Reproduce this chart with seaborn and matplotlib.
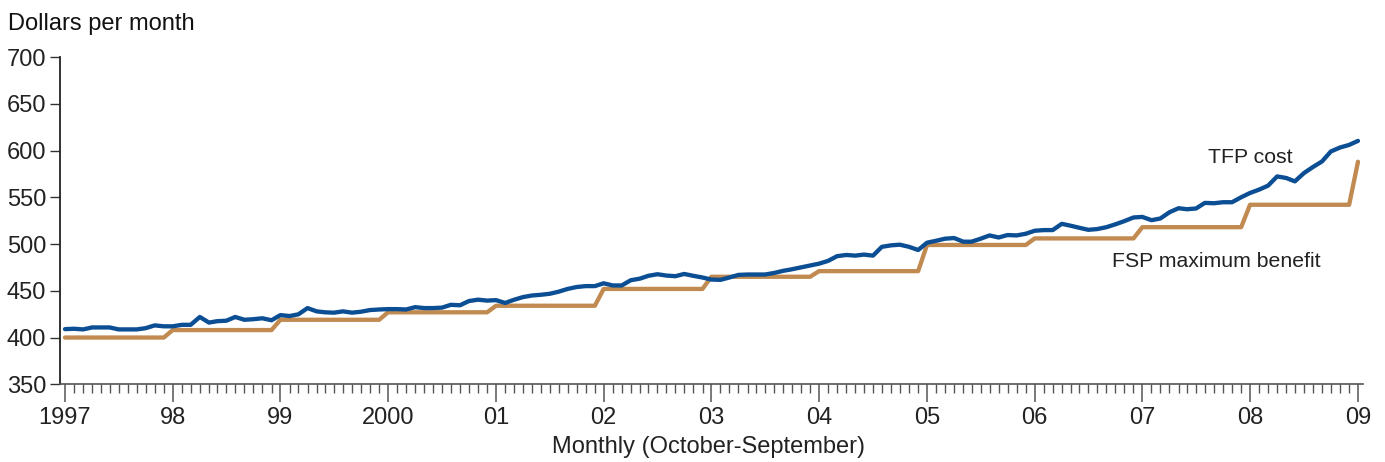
# TFP cost vs FSP maximum benefit, monthly Oct 1996 - Oct 2008
import matplotlib
matplotlib.use("Agg")
import matplotlib.pyplot as plt
import matplotlib.dates as mdates
import numpy as np
import pandas as pd
import seaborn as sns

months = pd.date_range("1996-10-01", periods=145, freq="MS")

tfp_cost = [
    409, 409.4, 408.7, 410.8, 410.8, 410.8, 408.7, 408.7, 408.7, 410, 413, 412,
    412, 413.6, 413.6, 422, 416, 417.5, 418, 422, 419, 419.6, 420.6, 418.5,
    424, 423, 424.8, 431.5, 428, 427, 426.6, 428, 426.6, 427.6, 429.4, 430,
    430.4, 430.4, 430, 432.5, 431.5, 431.5, 432, 435, 434.5, 439, 440.5, 439.5,
    440, 437, 440.4, 443.3, 445, 445.7, 446.8, 449, 452, 454, 455, 455,
    458, 455.7, 455.7, 461.3, 463, 466, 467.7, 466.3, 465.6, 468, 466, 464.2,
    462, 461.7, 464.2, 467, 467.4, 467.4, 467.4, 469, 471.3, 473, 475, 477,
    479, 482, 487, 488.3, 487.6, 488.7, 487.6, 497, 498.6, 499.3, 497, 493.6,
    501.4, 503.5, 505.7, 506.4, 502.5, 502.5, 505.7, 509.2, 507, 509.6, 509.2, 511,
    514.2, 514.9, 514.9, 521.6, 519.5, 517.4, 515.2, 516, 518, 521, 524.5, 528.4,
    529, 525.5, 527.3, 534, 538.3, 537.2, 538, 544, 543.6, 544.7, 544.7, 550,
    554.6, 558.2, 562.4, 572.3, 570.6, 567, 575.9, 582.3, 588.3, 599, 603.2, 606,
    610.3,
]

# maximum benefit per fiscal year (Oct-Sep), plus Oct 2008
fsp_by_year = [400, 408, 419, 427, 434, 452, 465, 471, 499, 506, 518, 542]
fsp_last = 588
fsp_benefit = list(np.repeat(fsp_by_year, 12)) + [fsp_last]

year_labels = ["1997", "98", "99", "2000", "01", "02", "03", "04", "05", "06", "07", "08", "09"]

df = pd.DataFrame({"month": months, "TFP cost": tfp_cost, "FSP maximum benefit": fsp_benefit})

sns.set_style("ticks")
plt.rcParams["font.family"] = ["Liberation Sans", "DejaVu Sans"]

fig = plt.figure(figsize=(13.85, 4.62), dpi=100)
ax = fig.add_axes([60 / 1385, 1 - 384.3 / 462, (1363 - 60) / 1385, (384.3 - 57) / 462])

sns.lineplot(data=df, x="month", y="FSP maximum benefit", color="#c08a50", lw=3.1, ax=ax)
sns.lineplot(data=df, x="month", y="TFP cost", color="#0b4e93", lw=3.1, ax=ax)

ax.set_ylim(350, 700)
ax.set_yticks(range(350, 701, 50))
pad = pd.Timedelta(days=17)
ax.set_xlim(months[0] - pad, months[-1] + pad)
ax.set_xticks(months[::12])
ax.set_xticklabels(year_labels)
ax.xaxis.set_minor_locator(mdates.MonthLocator())
ax.set_xlabel("")
ax.set_ylabel("")

ax.tick_params(axis="x", which="major", length=13, width=1.1, color="#555555", labelsize=17, pad=3, labelcolor="#222222")
ax.tick_params(axis="x", which="minor", length=6.5, width=1, color="#555555")
ax.tick_params(axis="y", length=7, width=1, color="#333333", labelsize=17, pad=3, labelcolor="#222222")
sns.despine(ax=ax)
ax.spines["left"].set_color("#222222")
ax.spines["left"].set_linewidth(1.3)
ax.spines["bottom"].set_color("#555555")
ax.spines["bottom"].set_linewidth(1.2)

fig.text(8 / 1385, 1 - 30 / 462, "Dollars per month", fontsize=17, va="baseline", color="#111111")
fig.text(1208 / 1385, 1 - 163 / 462, "TFP cost", fontsize=15.3, va="baseline", color="#222222")
fig.text(1112 / 1385, 1 - 267 / 462, "FSP maximum benefit", fontsize=15.3, va="baseline", color="#222222")
fig.text(708 / 1385, 1 - 453 / 462, "Monthly (October-September)", fontsize=17, ha="center", va="baseline", color="#222222")

fig.savefig("out.png", dpi=100)
